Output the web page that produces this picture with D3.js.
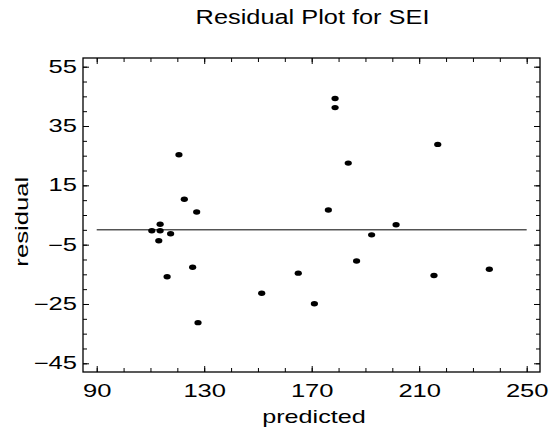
<!DOCTYPE html>
<html>
<head>
<meta charset="utf-8">
<script src="https://cdn.jsdelivr.net/npm/d3@7"></script>
<style>
  body { margin: 0; background: #fff; }
  text { font-family: "Liberation Sans", Arial, sans-serif; fill: #000; }
</style>
</head>
<body>
<script>
// residual plot data
const predicted = [120.6, 122.6, 127.2, 113.6, 110.5, 113.6, 117.5, 113.1, 125.7, 116.2, 151.4, 165.0,
                   127.7, 171.0, 178.7, 178.7, 216.9, 183.6, 176.2, 201.4, 192.3, 186.7, 215.5, 236.1]
const residual = [25.3, 10.3, 6.0, 1.9, -0.3, -0.3, -1.3, -3.7, -12.6, -15.8, -21.4, -14.6,
                  -31.3, -24.9, 44.3, 41.2, 28.8, 22.5, 6.7, 1.7, -1.7, -10.5, -15.4, -13.3]
const xLabels = [90, 130, 170, 210, 250]
const yLabels = [55, 35, 15, -5, -25, -45]
const xMinor = d3.range(90, 251, 10)
const yMinor = d3.range(-45, 56, 5)

const W = 551, H = 432
const plot = { left: 83, right: 540, top: 58, bottom: 372 }

const svg = d3.select('body').append('svg')
    .attr('width', W)
    .attr('height', H)

const x = d3.scaleLinear().domain([84.9, 254.95]).range([plot.left, plot.right])
const y = d3.scaleLinear().domain([-47.93, 57.93]).range([plot.bottom, plot.top])

// text in the original is drawn wide, stretch it horizontally
function stretch(sel, sx) {
    sel.each(function () {
        const t = d3.select(this)
        const tx = +t.attr('x') || 0
        t.attr('x', tx / sx).attr('transform', `scale(${sx},1)`)
    })
}

function ticks(axis, pos, values, size, labels) {
    const g = svg.append('g')
        .attr('transform', pos)
        .call(axis.tickValues(values).tickSizeInner(-size).tickSizeOuter(0)
            .tickFormat(labels ? d3.format('d') : ''))
    g.select('.domain').remove()
    g.selectAll('line').attr('stroke', '#000').attr('stroke-width', 1)
    return g
}

// minor ticks on all four sides
ticks(d3.axisBottom(x), `translate(0,${plot.bottom})`, xMinor, 4, false)
ticks(d3.axisTop(x), `translate(0,${plot.top})`, xMinor, 4, false)
ticks(d3.axisLeft(y), `translate(${plot.left},0)`, yMinor, 4, false)
ticks(d3.axisRight(y), `translate(${plot.right},0)`, yMinor, 4, false)

// labelled ticks
const xb = ticks(d3.axisBottom(x).tickPadding(13), `translate(0,${plot.bottom})`, xLabels, 6, true)
ticks(d3.axisTop(x), `translate(0,${plot.top})`, xLabels, 6, false)
const yl = ticks(d3.axisLeft(y).tickPadding(6), `translate(${plot.left},0)`, yLabels, 6, true)
ticks(d3.axisRight(y), `translate(${plot.right},0)`, yLabels, 6, false)

xb.selectAll('text').attr('font-size', 17.5).attr('font-family', null).call(stretch, 1.46)
yl.selectAll('text').attr('font-size', 17.5).attr('font-family', null).call(stretch, 1.46)

// frame
svg.append('rect')
    .attr('x', plot.left)
    .attr('y', plot.top)
    .attr('width', plot.right - plot.left)
    .attr('height', plot.bottom - plot.top)
    .attr('fill', 'none')
    .attr('stroke', '#000')
    .attr('stroke-width', 1.3)

// zero line
svg.append('line')
    .attr('x1', x(90))
    .attr('x2', x(250))
    .attr('y1', y(0))
    .attr('y2', y(0))
    .attr('stroke', '#000')
    .attr('stroke-width', 1)

// points
svg.append('g').selectAll('ellipse')
    .data(predicted)
    .join('ellipse')
    .attr('cx', d => x(d))
    .attr('cy', (d, i) => y(residual[i]))
    .attr('rx', 3.6)
    .attr('ry', 2.7)
    .attr('fill', '#000')

// title and axis labels
svg.append('text')
    .attr('transform', 'translate(312.5,24) scale(1.3,1)')
    .attr('text-anchor', 'middle')
    .attr('font-size', 19.5)
    .text('Residual Plot for SEI')

svg.append('text')
    .attr('transform', 'translate(314,423) scale(1.4,1)')
    .attr('text-anchor', 'middle')
    .attr('font-size', 18)
    .text('predicted')

svg.append('text')
    .attr('transform', 'translate(28.3,221.7) rotate(-90) scale(1.39,1)')
    .attr('text-anchor', 'middle')
    .attr('font-size', 18.5)
    .text('residual')
</script>
</body>
</html>
